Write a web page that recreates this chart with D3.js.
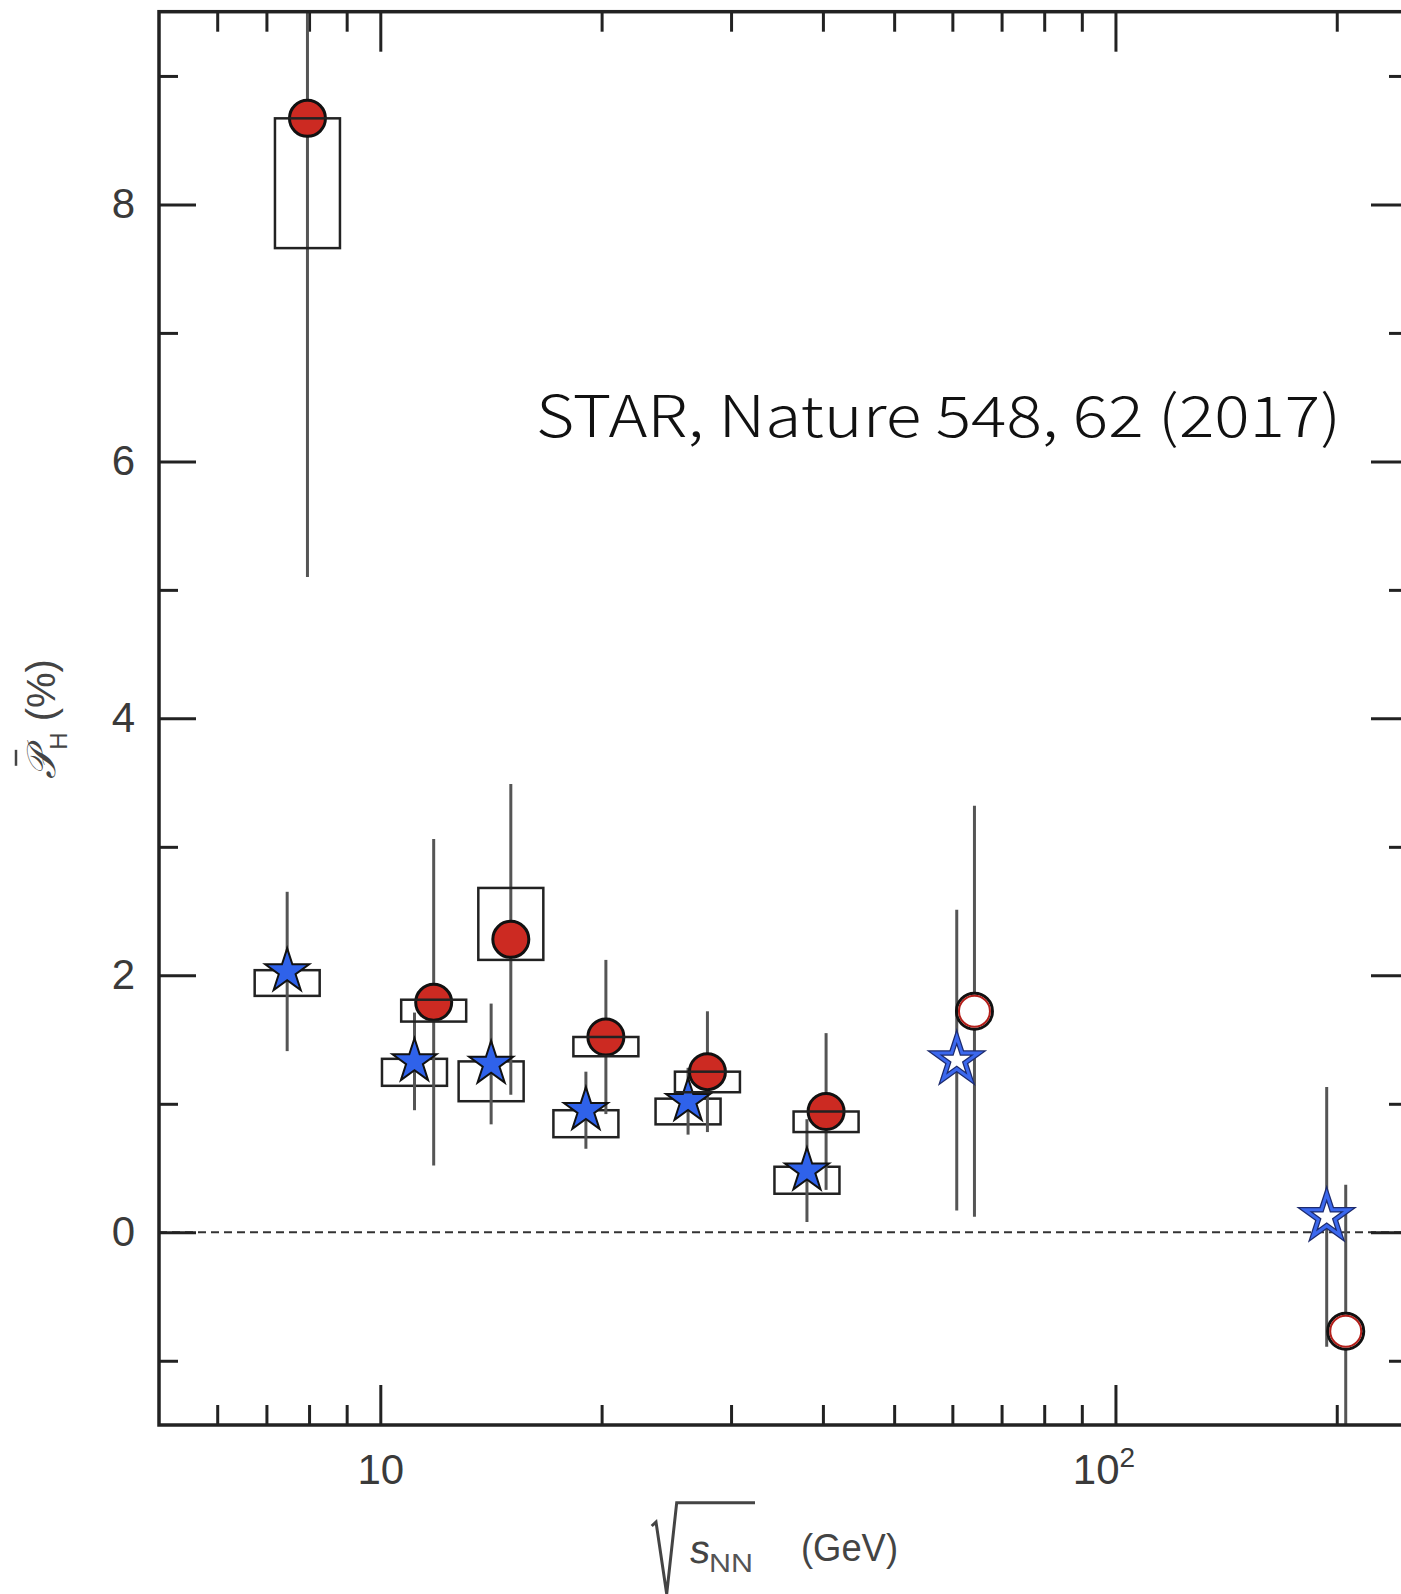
<!DOCTYPE html>
<html><head><meta charset="utf-8">
<script src="https://cdn.jsdelivr.net/npm/d3@7"></script>
<style>html,body{margin:0;padding:0;background:#fff;} svg{display:block;}</style>
</head><body>
<svg id="chart" width="1401" height="1594"></svg>
<script>
// ---- data ----
// Lambda (stars): plotted sqrt(sNN) position, polarization (%), stat error, syst box (+hi / -lo)
const lambdaE     = [7.47, 11.13, 14.15, 19.04, 26.22, 38.05, 60.83, 193.8];
const lambdaP     = [2.03, 1.33, 1.31, 0.95, 1.02, 0.48, 1.34, 0.12];
const lambdaStat  = [0.62, 0.38, 0.47, 0.30, 0.26, 0.40, 1.17, 1.01];
const lambdaSysHi = [0.01, 0.02, 0.02, 0.00, 0.02, 0.03, null, null];
const lambdaSysLo = [0.19, 0.19, 0.29, 0.21, 0.18, 0.18, null, null];
const lambdaFilled = [true, true, true, true, true, true, false, false];
// anti-Lambda (circles)
const alamE     = [7.96, 11.82, 15.05, 20.27, 27.86, 40.4, 64.3, 205.7];
const alamP     = [8.67, 1.79, 2.28, 1.52, 1.25, 0.94, 1.72, -0.77];
const alamStat  = [3.57, 1.27, 1.21, 0.60, 0.47, 0.61, 1.60, 1.14];
const alamSysHi = [0.00, 0.02, 0.40, 0.00, 0.00, 0.00, null, null];
const alamSysLo = [1.01, 0.15, 0.16, 0.15, 0.16, 0.16, null, null];
const alamFilled = [true, true, true, true, true, true, false, false];
// ticks
const xMajorTicks = [10, 100];
const xMinorTicks = [6, 7, 8, 9, 20, 30, 40, 50, 60, 70, 80, 90, 200];
const yMajorTicks = [0, 2, 4, 6, 8];
const yMinorTicks = [-1, 1, 3, 5, 7, 9];
const xDomain = [5, 250];
const yDomain = [-1.5, 9.5];
const annotation = "STAR, Nature 548, 62 (2017)";

// ---- layout ----
const L = 159, T = 11.7, R = 1408, B = 1425;
const x = d3.scaleLog().domain(xDomain).range([L, R]);
const y = d3.scaleLinear().domain(yDomain).range([B, T]);
const svg = d3.select('#chart');
const FONT = "'Liberation Sans', Arial, Helvetica, sans-serif";

svg.append('defs').append('clipPath').attr('id', 'plot')
  .append('rect').attr('x', L).attr('y', T).attr('width', R - L).attr('height', B - T);

// zero line
svg.append('line').attr('x1', L).attr('x2', R).attr('y1', y(0)).attr('y2', y(0))
  .attr('stroke', '#333').attr('stroke-width', 2).attr('stroke-dasharray', '8,5');

function styleAxis(g) {
  g.select('.domain').remove();
  g.selectAll('.tick line').attr('stroke', '#222').attr('stroke-width', 3);
  g.selectAll('.tick text').attr('fill', '#3a3a3a').attr('font-family', FONT).attr('font-size', 42);
}
// bottom
const gxb = svg.append('g').attr('transform', `translate(0,${B})`)
  .call(d3.axisBottom(x).tickValues(xMajorTicks).tickSize(-40).tickPadding(29)
    .tickFormat(d => d === 10 ? '10' : ''));
styleAxis(gxb);
gxb.selectAll('.tick').filter(d => d === 100).select('text').each(function () {
  const t = d3.select(this).attr('x', -12);
  t.append('tspan').text('10');
  t.append('tspan').attr('dy', -17).attr('font-size', 28).text('2');
});
svg.append('g').attr('transform', `translate(0,${B})`)
  .call(d3.axisBottom(x).tickValues(xMinorTicks).tickSize(-20).tickFormat('')).call(styleAxis);
// top
svg.append('g').attr('transform', `translate(0,${T})`)
  .call(d3.axisTop(x).tickValues(xMajorTicks).tickSize(-40).tickFormat('')).call(styleAxis);
svg.append('g').attr('transform', `translate(0,${T})`)
  .call(d3.axisTop(x).tickValues(xMinorTicks).tickSize(-20).tickFormat('')).call(styleAxis);
// left
svg.append('g').attr('transform', `translate(${L},0)`)
  .call(d3.axisLeft(y).tickValues(yMajorTicks).tickSize(-37).tickPadding(24).tickFormat(d3.format('d'))).call(styleAxis);
svg.append('g').attr('transform', `translate(${L},0)`)
  .call(d3.axisLeft(y).tickValues(yMinorTicks).tickSize(-19).tickFormat('')).call(styleAxis);
// right
svg.append('g').attr('transform', `translate(${R},0)`)
  .call(d3.axisRight(y).tickValues(yMajorTicks).tickSize(-37).tickFormat('')).call(styleAxis);
svg.append('g').attr('transform', `translate(${R},0)`)
  .call(d3.axisRight(y).tickValues(yMinorTicks).tickSize(-19).tickFormat('')).call(styleAxis);

// ---- data marks ----
function rows(E, P, S, hi, lo, F) {
  return E.map((e, i) => ({ e, p: P[i], s: S[i], hi: hi[i], lo: lo[i], filled: F[i] }));
}
const lam = rows(lambdaE, lambdaP, lambdaStat, lambdaSysHi, lambdaSysLo, lambdaFilled);
const alam = rows(alamE, alamP, alamStat, alamSysHi, alamSysLo, alamFilled);
const plot = svg.append('g').attr('clip-path', 'url(#plot)');
const BOXW = 65;

function boxes(data) {
  plot.append('g').selectAll('rect').data(data.filter(d => d.hi !== null)).join('rect')
    .attr('x', d => x(d.e) - BOXW / 2).attr('width', BOXW)
    .attr('y', d => y(d.p + d.hi)).attr('height', d => y(d.p - d.lo) - y(d.p + d.hi))
    .attr('fill', 'none').attr('stroke', '#222').attr('stroke-width', 2.5);
}
function errs(data) {
  plot.append('g').selectAll('line').data(data).join('line')
    .attr('x1', d => x(d.e)).attr('x2', d => x(d.e))
    .attr('y1', d => y(d.p + d.s)).attr('y2', d => y(d.p - d.s))
    .attr('stroke', '#555').attr('stroke-width', 3);
}
boxes(lam);
errs(lam);
errs(alam);

const star = d3.symbol().type(d3.symbolStar).size(600)();
const sg = plot.append('g');
lam.forEach(d => {
  const tr = `translate(${x(d.e)},${y(d.p)})`;
  if (d.filled) {
    sg.append('path').attr('d', star).attr('transform', tr)
      .attr('fill', '#2f62ea').attr('stroke', '#111').attr('stroke-width', 2);
  } else {
    sg.append('path').attr('d', star).attr('transform', tr)
      .attr('fill', '#fff').attr('stroke', '#1d2b6e').attr('stroke-width', 5.5);
    sg.append('path').attr('d', star).attr('transform', tr)
      .attr('fill', 'none').attr('stroke', '#3b68ee').attr('stroke-width', 3);
  }
});
const cg = plot.append('g');
alam.forEach(d => {
  const cx = x(d.e), cy = y(d.p);
  if (d.filled) {
    cg.append('circle').attr('cx', cx).attr('cy', cy).attr('r', 18)
      .attr('fill', '#cc2a22').attr('stroke', '#111').attr('stroke-width', 3);
  } else {
    cg.append('circle').attr('cx', cx).attr('cy', cy).attr('r', 18)
      .attr('fill', '#fff').attr('stroke', '#111').attr('stroke-width', 3);
    cg.append('circle').attr('cx', cx).attr('cy', cy).attr('r', 15.5)
      .attr('fill', 'none').attr('stroke', '#b3201b').attr('stroke-width', 2);
  }
});
boxes(alam);

// frame
svg.append('rect').attr('x', L).attr('y', T).attr('width', R - L).attr('height', B - T)
  .attr('fill', 'none').attr('stroke', '#222').attr('stroke-width', 3.5);

// annotation
svg.append('text').attr('x', 536).attr('y', 436.7)
  .attr('font-family', "'Noto Sans CJK JP', 'Noto Sans', sans-serif").attr('font-size', 57)
  .attr('font-weight', 300)
  .attr('fill', '#111').attr('textLength', 805).attr('lengthAdjust', 'spacingAndGlyphs')
  .text(annotation);

// y label
const yl = svg.append('g').attr('transform', 'translate(55,719) rotate(-90)');
const ylt = yl.append('text').attr('text-anchor', 'middle').attr('font-family', FONT).attr('fill', '#444');
ylt.append('tspan').attr('font-size', 40).attr('font-style', 'italic').attr('font-family', "'DejaVu Sans', sans-serif").text('𝒫');
ylt.append('tspan').attr('font-size', 24).attr('dy', 12).text('H');
ylt.append('tspan').attr('font-size', 40).attr('dy', -12).text(' (%)');
try {
  const ext = ylt.node().getExtentOfChar(0);
  yl.append('line').attr('x1', ext.x + ext.width * 0.45).attr('x2', ext.x + ext.width * 1.0)
    .attr('y1', -39).attr('y2', -39).attr('stroke', '#444').attr('stroke-width', 2.5);
} catch (e) {}

// x label
svg.append('path').attr('d', 'M651.7,1526 L656,1522 L666.7,1594 L676.7,1502.7 L755,1502.7')
  .attr('fill', 'none').attr('stroke', '#444').attr('stroke-width', 3).attr('stroke-linejoin', 'miter');
svg.append('text').attr('x', 689).attr('y', 1563).attr('font-family', FONT)
  .attr('font-size', 40).attr('fill', '#444').attr('transform', 'skewX(-6)').attr('dx', 164).text('s');
svg.append('text').attr('x', 709).attr('y', 1572).attr('font-family', FONT)
  .attr('font-size', 26).attr('fill', '#555').attr('textLength', 44).attr('lengthAdjust', 'spacingAndGlyphs').text('NN');
svg.append('text').attr('x', 801).attr('y', 1561).attr('font-family', FONT)
  .attr('font-size', 38).attr('fill', '#444').attr('textLength', 97).attr('lengthAdjust', 'spacingAndGlyphs').text('(GeV)');
</script>
</body></html>
